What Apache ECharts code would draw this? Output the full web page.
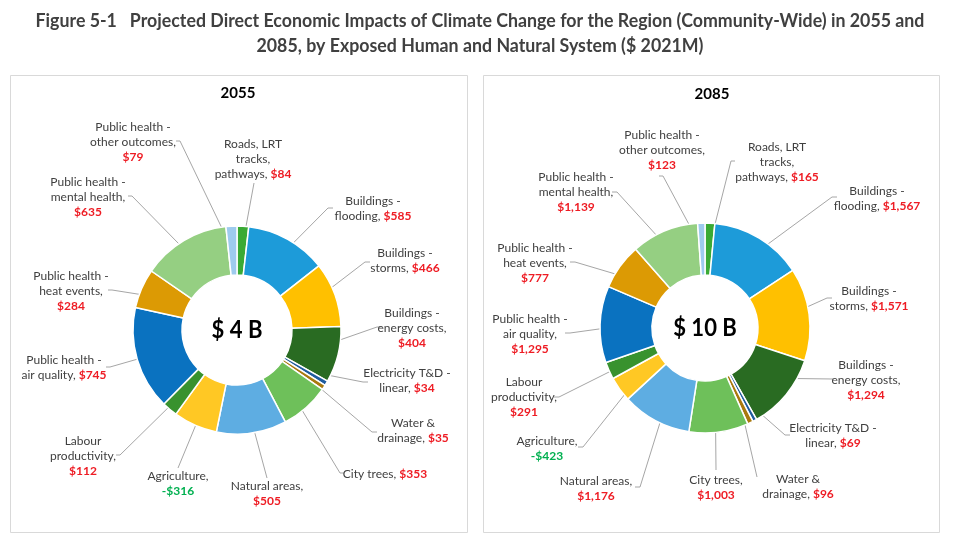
<!DOCTYPE html>
<html><head><meta charset="utf-8">
<script src="https://cdn.jsdelivr.net/npm/echarts@6/dist/echarts.min.js"></script>
<style>html,body{margin:0;padding:0;background:#fff}#c{width:960px;height:544px}</style>
</head><body><div id="c"></div>
<script>
// ---------- DATA ----------
const categories = [
  'Roads, LRT tracks, pathways', 'Buildings - flooding', 'Buildings - storms', 'Buildings - energy costs',
  'Electricity T&D - linear', 'Water & drainage', 'City trees', 'Natural areas', 'Agriculture',
  'Labour productivity', 'Public health - air quality', 'Public health - heat events',
  'Public health - mental health', 'Public health - other outcomes'
];
const values2055 = [84, 585, 466, 404, 34, 35, 353, 505, -316, 112, 745, 284, 635, 79];
const values2085 = [165, 1567, 1571, 1294, 69, 96, 1003, 1176, -423, 291, 1295, 777, 1139, 123];
const labels2055 = [
  'Roads, LRT\ntracks,\npathways, {v}', 'Buildings -\nflooding, {v}', 'Buildings -\nstorms, {v}',
  'Buildings -\nenergy costs,\n{v}', 'Electricity T&D -\nlinear, {v}', 'Water &\ndrainage, {v}',
  'City trees, {v}', 'Natural areas,\n{v}', 'Agriculture,\n{v}', 'Labour\nproductivity,\n{v}',
  'Public health -\nair quality, {v}', 'Public health -\nheat events,\n{v}',
  'Public health -\nmental health,\n{v}', 'Public health -\nother outcomes,\n{v}'
];
const labels2085 = [
  'Roads, LRT\ntracks,\npathways, {v}', 'Buildings -\nflooding, {v}', 'Buildings -\nstorms, {v}',
  'Buildings -\nenergy costs,\n{v}', 'Electricity T&D -\nlinear, {v}', 'Water &\ndrainage, {v}',
  'City trees,\n{v}', 'Natural areas,\n{v}', 'Agriculture,\n{v}', 'Labour\nproductivity,\n{v}',
  'Public health -\nair quality,\n{v}', 'Public health -\nheat events,\n{v}',
  'Public health -\nmental health,\n{v}', 'Public health -\nother outcomes,\n{v}'
];
const panelTitles = ['2055', '2085'];
const centerTexts = ['$ 4 B', '$ 10 B'];
const titleLines = [
  'Figure 5-1   Projected Direct Economic Impacts of Climate Change for the Region (Community-Wide) in 2055 and',
  '2085, by Exposed Human and Natural System ($ 2021M)'
];

// ---------- STYLE / LAYOUT ----------
const colors = ['#3aaa35', '#1d9bd9', '#ffc000', '#296b22', '#1f5c9e', '#a9790e', '#6ec05a',
  '#5eade2', '#ffc824', '#38922e', '#0a72c0', '#dc9a04', '#95cf82', '#9ecbee'];
const FONT = 'Lato';
const layout = [
  {
    center: [237, 330], radius: [55, 104], box: [10, 75, 457, 457], title: [238, 93],
    labelPos: [[253,159],[373,209],[405,261],[412,328],[407,381],[413,431],[385,474],[267,494],
               [178,484],[83,456],[64,368],[71,291],[88,197],[133,142]],
    lineEnd: [[254,183,0],[328,208,5],[365,262,5],[377,327,5],[363,382,5],[372,432,5],[340,473,4],
              [267,478,0],[178,468,0],[120,455,-4],[110,367,-4],[112,290,-4],[132,196,-4],[180,141,-4]]
  },
  {
    center: [705, 328], radius: [53, 105], box: [483, 75, 456, 457], title: [712, 94],
    labelPos: [[777,162],[877,199],[869,299],[866,380],[833,436],[798,487],[716,488],[596,489],
               [547,449],[524,397],[530,334],[535,263],[576,192],[662,150]],
    lineEnd: [[731,161,4],[832,197,5],[827,298,5],[833,379,0],[785,435,5],[757,477,0],[716,470,0],
              [640,487,-5],[583,447,-5],[559,397,-5],[570,333,-5],[575,262,-5],[617,192,-5],[663,176,-4]]
  }
];

function fmt(v) {
  return (v < 0 ? '-$' : '$') + Math.abs(v).toLocaleString('en-US');
}
function richText(tpl, v) {
  return tpl.split('\n').map(function (line) {
    const k = line.indexOf('{v}');
    if (k < 0) return '{n|' + line + '}';
    const pre = line.slice(0, k);
    return (pre ? '{n|' + pre + '}' : '') + (v < 0 ? '{g|' + fmt(v) + '}' : '{r|' + fmt(v) + '}');
  }).join('\n');
}
function midPoints(values, L) {
  const abs = values.map(Math.abs);
  const total = abs.reduce((a, b) => a + b, 0);
  const r = (L.radius[0] + L.radius[1]) / 2;
  let cum = 0;
  return abs.map(function (a) {
    const ang = (cum + a / 2) / total * 2 * Math.PI;
    cum += a;
    return [L.center[0] + r * Math.sin(ang), L.center[1] - r * Math.cos(ang)];
  });
}

const chart = echarts.init(document.getElementById('c'), null, { renderer: 'canvas' });
const allValues = [values2055, values2085];
const allLabels = [labels2055, labels2085];

function makeSeries(si) {
  const L = layout[si];
  const vals = allValues[si];
  const labs = allLabels[si];
  const starts = midPoints(vals, L);
  return {
    type: 'pie',
    center: L.center,
    radius: L.radius,
    startAngle: 90,
    clockwise: true,
    avoidLabelOverlap: false,
    animation: false,
    silent: true,
    itemStyle: { borderColor: '#ffffff', borderWidth: 1.5 },
    data: vals.map(function (v, i) {
      return { name: categories[i], value: Math.abs(v), itemStyle: { color: colors[i] } };
    }),
    label: {
      show: true,
      position: 'outside',
      formatter: function (p) { return richText(labs[p.dataIndex], vals[p.dataIndex]); },
      fontFamily: FONT,
      rich: {
        n: { fontFamily: FONT, fontSize: 12, color: '#404040', lineHeight: 15, align: 'center' },
        r: { fontFamily: FONT, fontSize: 12, color: '#ee1c24', fontWeight: 'bold', lineHeight: 15, align: 'center' },
        g: { fontFamily: FONT, fontSize: 12, color: '#00b050', fontWeight: 'bold', lineHeight: 15, align: 'center' }
      }
    },
    labelLine: { show: true, lineStyle: { color: '#a6a6a6', width: 1 } },
    labelLayout: function (p) {
      const pos = L.labelPos[p.dataIndex];
      const e = L.lineEnd[p.dataIndex];
      const s = starts[p.dataIndex];
      return {
        x: pos[0], y: pos[1], align: 'center', verticalAlign: 'middle',
        labelLinePoints: [[s[0], s[1]], [e[0], e[1]], [e[0] + e[2], e[1]]]
      };
    }
  };
}

const graphics = [];
layout.forEach(function (L, si) {
  graphics.push({
    type: 'rect', z: -1, silent: true,
    shape: { x: L.box[0] + 0.5, y: L.box[1] + 0.5, width: L.box[2], height: L.box[3] },
    style: { fill: '#ffffff', stroke: '#d9d9d9', lineWidth: 1 }
  });
  graphics.push({
    type: 'text', silent: true, x: L.title[0], y: L.title[1],
    style: { text: panelTitles[si], font: 'bold 15px ' + FONT, fill: '#000000', align: 'center', verticalAlign: 'middle' }
  });
  graphics.push({
    type: 'text', silent: true, x: L.center[0], y: L.center[1], scaleX: 0.92,
    style: { text: centerTexts[si], font: 'bold 24px ' + FONT, fill: '#000000', align: 'center', verticalAlign: 'middle' }
  });
});
titleLines.forEach(function (t, i) {
  graphics.push({
    type: 'text', silent: true, x: 480, y: 21 + i * 25, scaleX: 0.935,
    style: { text: t, font: 'bold 19px ' + FONT, fill: '#404040', align: 'center', verticalAlign: 'middle' }
  });
});

chart.setOption({
  backgroundColor: '#ffffff',
  animation: false,
  graphic: { elements: graphics },
  series: [makeSeries(0), makeSeries(1)]
});
</script>
</body></html>
